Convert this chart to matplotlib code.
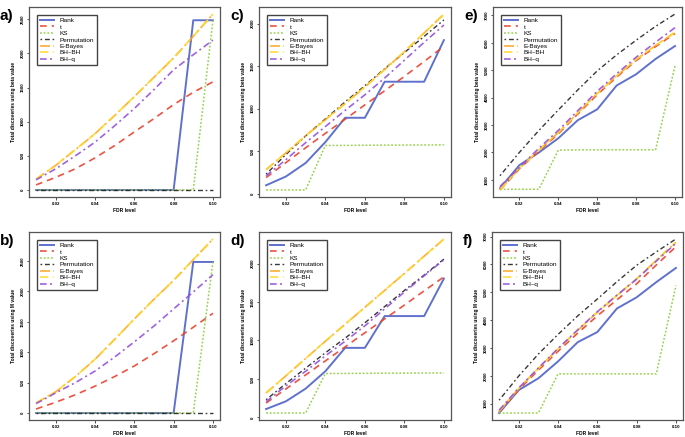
import matplotlib
matplotlib.use("Agg")
import matplotlib.pyplot as plt
import numpy as np

plt.rcParams['font.family'] = ['Liberation Sans', 'DejaVu Sans']

fdr = [0.01, 0.02, 0.03, 0.04, 0.05, 0.06, 0.07, 0.08, 0.09, 0.10]
methods = ["Rank", "t", "KS", "Permutation", "E-Bayes", "BH\u2013BH", "BH\u2013q"]

# panel a (beta value)
a_rank = [0, 0, 0, 0, 0, 0, 0, 0, 2485, 2485]
a_t = [74, 185, 310, 470, 650, 850, 1045, 1250, 1430, 1583]
a_ks = [0, 0, 0, 0, 0, 0, 0, 0, 0, 2485]
a_perm = [0, 0, 0, 0, 0, 0, 0, 0, 0, 0]
a_ebayes = [158, 360, 590, 823, 1090, 1366, 1650, 1933, 2250, 2574]
a_bhbh = [160, 362, 592, 825, 1092, 1368, 1652, 1935, 2252, 2576]
a_bhq = [148, 310, 500, 700, 940, 1193, 1470, 1760, 1980, 2194]

# panel b (M value)
b_rank = [0, 0, 0, 0, 0, 0, 0, 0, 2483, 2483]
b_t = [66, 177, 300, 442, 600, 773, 975, 1187, 1410, 1639]
b_ks = [0, 0, 0, 0, 0, 0, 0, 0, 0, 2483]
b_perm = [0, 0, 0, 0, 0, 0, 0, 0, 0, 0]
b_ebayes = [166, 348, 600, 883, 1210, 1545, 1870, 2180, 2520, 2859]
b_bhbh = [168, 350, 602, 885, 1212, 1547, 1872, 2182, 2522, 2861]
b_bhq = [155, 331, 500, 690, 920, 1170, 1430, 1711, 1990, 2274]

# panel c (beta value)
c_rank = [99, 202, 361, 607, 893, 893, 1317, 1317, 1317, 1806]
c_t = [190, 365, 540, 710, 876, 1045, 1210, 1380, 1555, 1734]
c_ks = [44, 44, 44, 567, 568, 570, 571, 572, 573, 575]
c_perm = [230, 460, 680, 880, 1080, 1270, 1470, 1660, 1850, 2044]
c_ebayes = [282, 480, 680, 870, 1060, 1254, 1460, 1670, 1890, 2111]
c_bhbh = [284, 482, 682, 872, 1062, 1256, 1462, 1672, 1892, 2113]
c_bhq = [210, 400, 600, 790, 980, 1163, 1360, 1570, 1780, 1984]

# panel d (M value)
d_rank = [109, 209, 374, 600, 904, 904, 1317, 1317, 1317, 1804]
d_t = [187, 370, 552, 735, 917, 1100, 1280, 1460, 1645, 1826]
d_ks = [57, 57, 57, 570, 572, 573, 575, 576, 577, 578]
d_perm = [230, 440, 640, 840, 1030, 1230, 1440, 1650, 1850, 2057]
d_ebayes = [317, 540, 765, 990, 1210, 1430, 1650, 1870, 2095, 2317]
d_bhbh = [319, 542, 767, 992, 1212, 1432, 1652, 1872, 2097, 2319]
d_bhq = [205, 410, 600, 800, 990, 1190, 1410, 1630, 1840, 2048]

# panel e (beta value)
e_rank = [689, 1534, 1994, 2516, 3174, 3571, 4441, 4851, 5410, 5882]
e_t = [627, 1400, 2050, 2677, 3400, 4106, 4750, 5348, 5860, 6342]
e_ks = [652, 652, 652, 2081, 2090, 2090, 2093, 2093, 2093, 5161]
e_perm = [1149, 2000, 2800, 3547, 4280, 4975, 5560, 6093, 6600, 7050]
e_ebayes = [640, 1420, 2080, 2720, 3440, 4150, 4790, 5390, 5900, 6380]
e_bhbh = [645, 1425, 2085, 2725, 3445, 4155, 4795, 5395, 5905, 6385]
e_bhq = [752, 1450, 2150, 2800, 3520, 4230, 4870, 5472, 6020, 6553]

# panel f (M value)
f_rank = [661, 1485, 1909, 2515, 3206, 3570, 4418, 4818, 5364, 5873]
f_t = [697, 1500, 2200, 2879, 3530, 4152, 4730, 5303, 5980, 6636]
f_ks = [661, 661, 661, 2067, 2067, 2067, 2067, 2067, 2067, 5242]
f_perm = [1121, 1990, 2780, 3485, 4150, 4758, 5380, 5970, 6450, 6915]
f_ebayes = [720, 1540, 2260, 2960, 3630, 4280, 4880, 5480, 6150, 6794]
f_bhbh = [725, 1545, 2265, 2965, 3635, 4285, 4885, 5485, 6155, 6799]
f_bhq = [760, 1560, 2280, 2980, 3650, 4300, 4900, 5470, 6120, 6758]

x_ticks = [0.02, 0.04, 0.06, 0.08, 0.10]
x_ticklabels = ["0.02", "0.04", "0.06", "0.08", "0.10"]
yticks_ab = [0, 500, 1000, 1500, 2000, 2500]
yticks_cd = [0, 500, 1000, 1500, 2000]
yticks_ef = [1000, 2000, 3000, 4000, 5000, 6000, 7000]

ylabel_beta = "Total discoveries using beta value"
ylabel_m = "Total discoveries using M value"
xlabel = "FDR level"

styles = [
    dict(color="#4E62C8", ls="-", lw=1.4),
    dict(color="#E8412C", ls=(0, (4, 3)), lw=1.2),
    dict(color="#8FCC3C", ls=(0, (1.2, 1.2)), lw=1.1),
    dict(color="#222222", ls=(0, (1.2, 2, 3.5, 2)), lw=1.0),
    dict(color="#FFA520", ls=(0, (6, 2, 1.2, 2)), lw=1.2),
    dict(color="#FFD62A", ls=(0, (5, 3)), lw=1.2),
    dict(color="#9352DE", ls=(0, (4, 2, 1.2, 2)), lw=1.2),
]

panels = [
    ("a)", [a_rank, a_t, a_ks, a_perm, a_ebayes, a_bhbh, a_bhq], yticks_ab, ylabel_beta, (29, 7, 220, 197)),
    ("c)", [c_rank, c_t, c_ks, c_perm, c_ebayes, c_bhbh, c_bhq], yticks_cd, ylabel_beta, (259, 7, 451, 197)),
    ("e)", [e_rank, e_t, e_ks, e_perm, e_ebayes, e_bhbh, e_bhq], yticks_ef, ylabel_beta, (493, 7, 682, 197)),
    ("b)", [b_rank, b_t, b_ks, b_perm, b_ebayes, b_bhbh, b_bhq], yticks_ab, ylabel_m, (29, 232, 220, 420)),
    ("d)", [d_rank, d_t, d_ks, d_perm, d_ebayes, d_bhbh, d_bhq], yticks_cd, ylabel_m, (259, 232, 451, 420)),
    ("f)", [f_rank, f_t, f_ks, f_perm, f_ebayes, f_bhbh, f_bhq], yticks_ef, ylabel_m, (492, 232, 683, 420)),
]

W, H = 685, 437
fig = plt.figure(figsize=(W / 100, H / 100), dpi=100)
fig.patch.set_facecolor("white")

for label, series, yt, ylab, (x0, y0, x1, y1) in panels:
    ax = fig.add_axes([x0 / W, 1 - y1 / H, (x1 - x0) / W, (y1 - y0) / H])
    for name, vals, st in zip(methods, series, styles):
        ax.plot(fdr, vals, label=name, alpha=0.9, **st)
    ax.margins(x=0.04, y=0.04)
    ax.set_xticks(x_ticks)
    ax.set_xticklabels(x_ticklabels)
    ax.set_yticks(yt)
    ax.set_yticklabels([str(v) for v in yt], rotation=90, va="center")
    ax.tick_params(labelsize=3.2, length=1.8, width=0.6, pad=1.5, color="#333333")
    for t in ax.get_xticklabels() + ax.get_yticklabels():
        t.set_fontweight("bold")
    for sp in ax.spines.values():
        sp.set_color("#555555")
        sp.set_linewidth(0.9)
    ax.set_xlabel(xlabel, fontsize=3.5, fontweight="bold", labelpad=2)
    ax.set_ylabel(ylab, fontsize=3.5, fontweight="bold", labelpad=3)
    leg = ax.legend(loc="upper left", bbox_to_anchor=(0.04, 0.96), fontsize=4.6,
                    frameon=True, fancybox=False, framealpha=1, edgecolor="#444444",
                    handlelength=2.2, handletextpad=0.9, labelspacing=0.15,
                    borderpad=0.5, borderaxespad=0)
    leg.get_frame().set_linewidth(1.0)
    fig.text((x0 - 29) / W + 0.0, 1 - (y0 + 2) / H, label, fontsize=11, fontweight="bold",
             ha="left", va="top")

fig.savefig("out.png", dpi=100)
